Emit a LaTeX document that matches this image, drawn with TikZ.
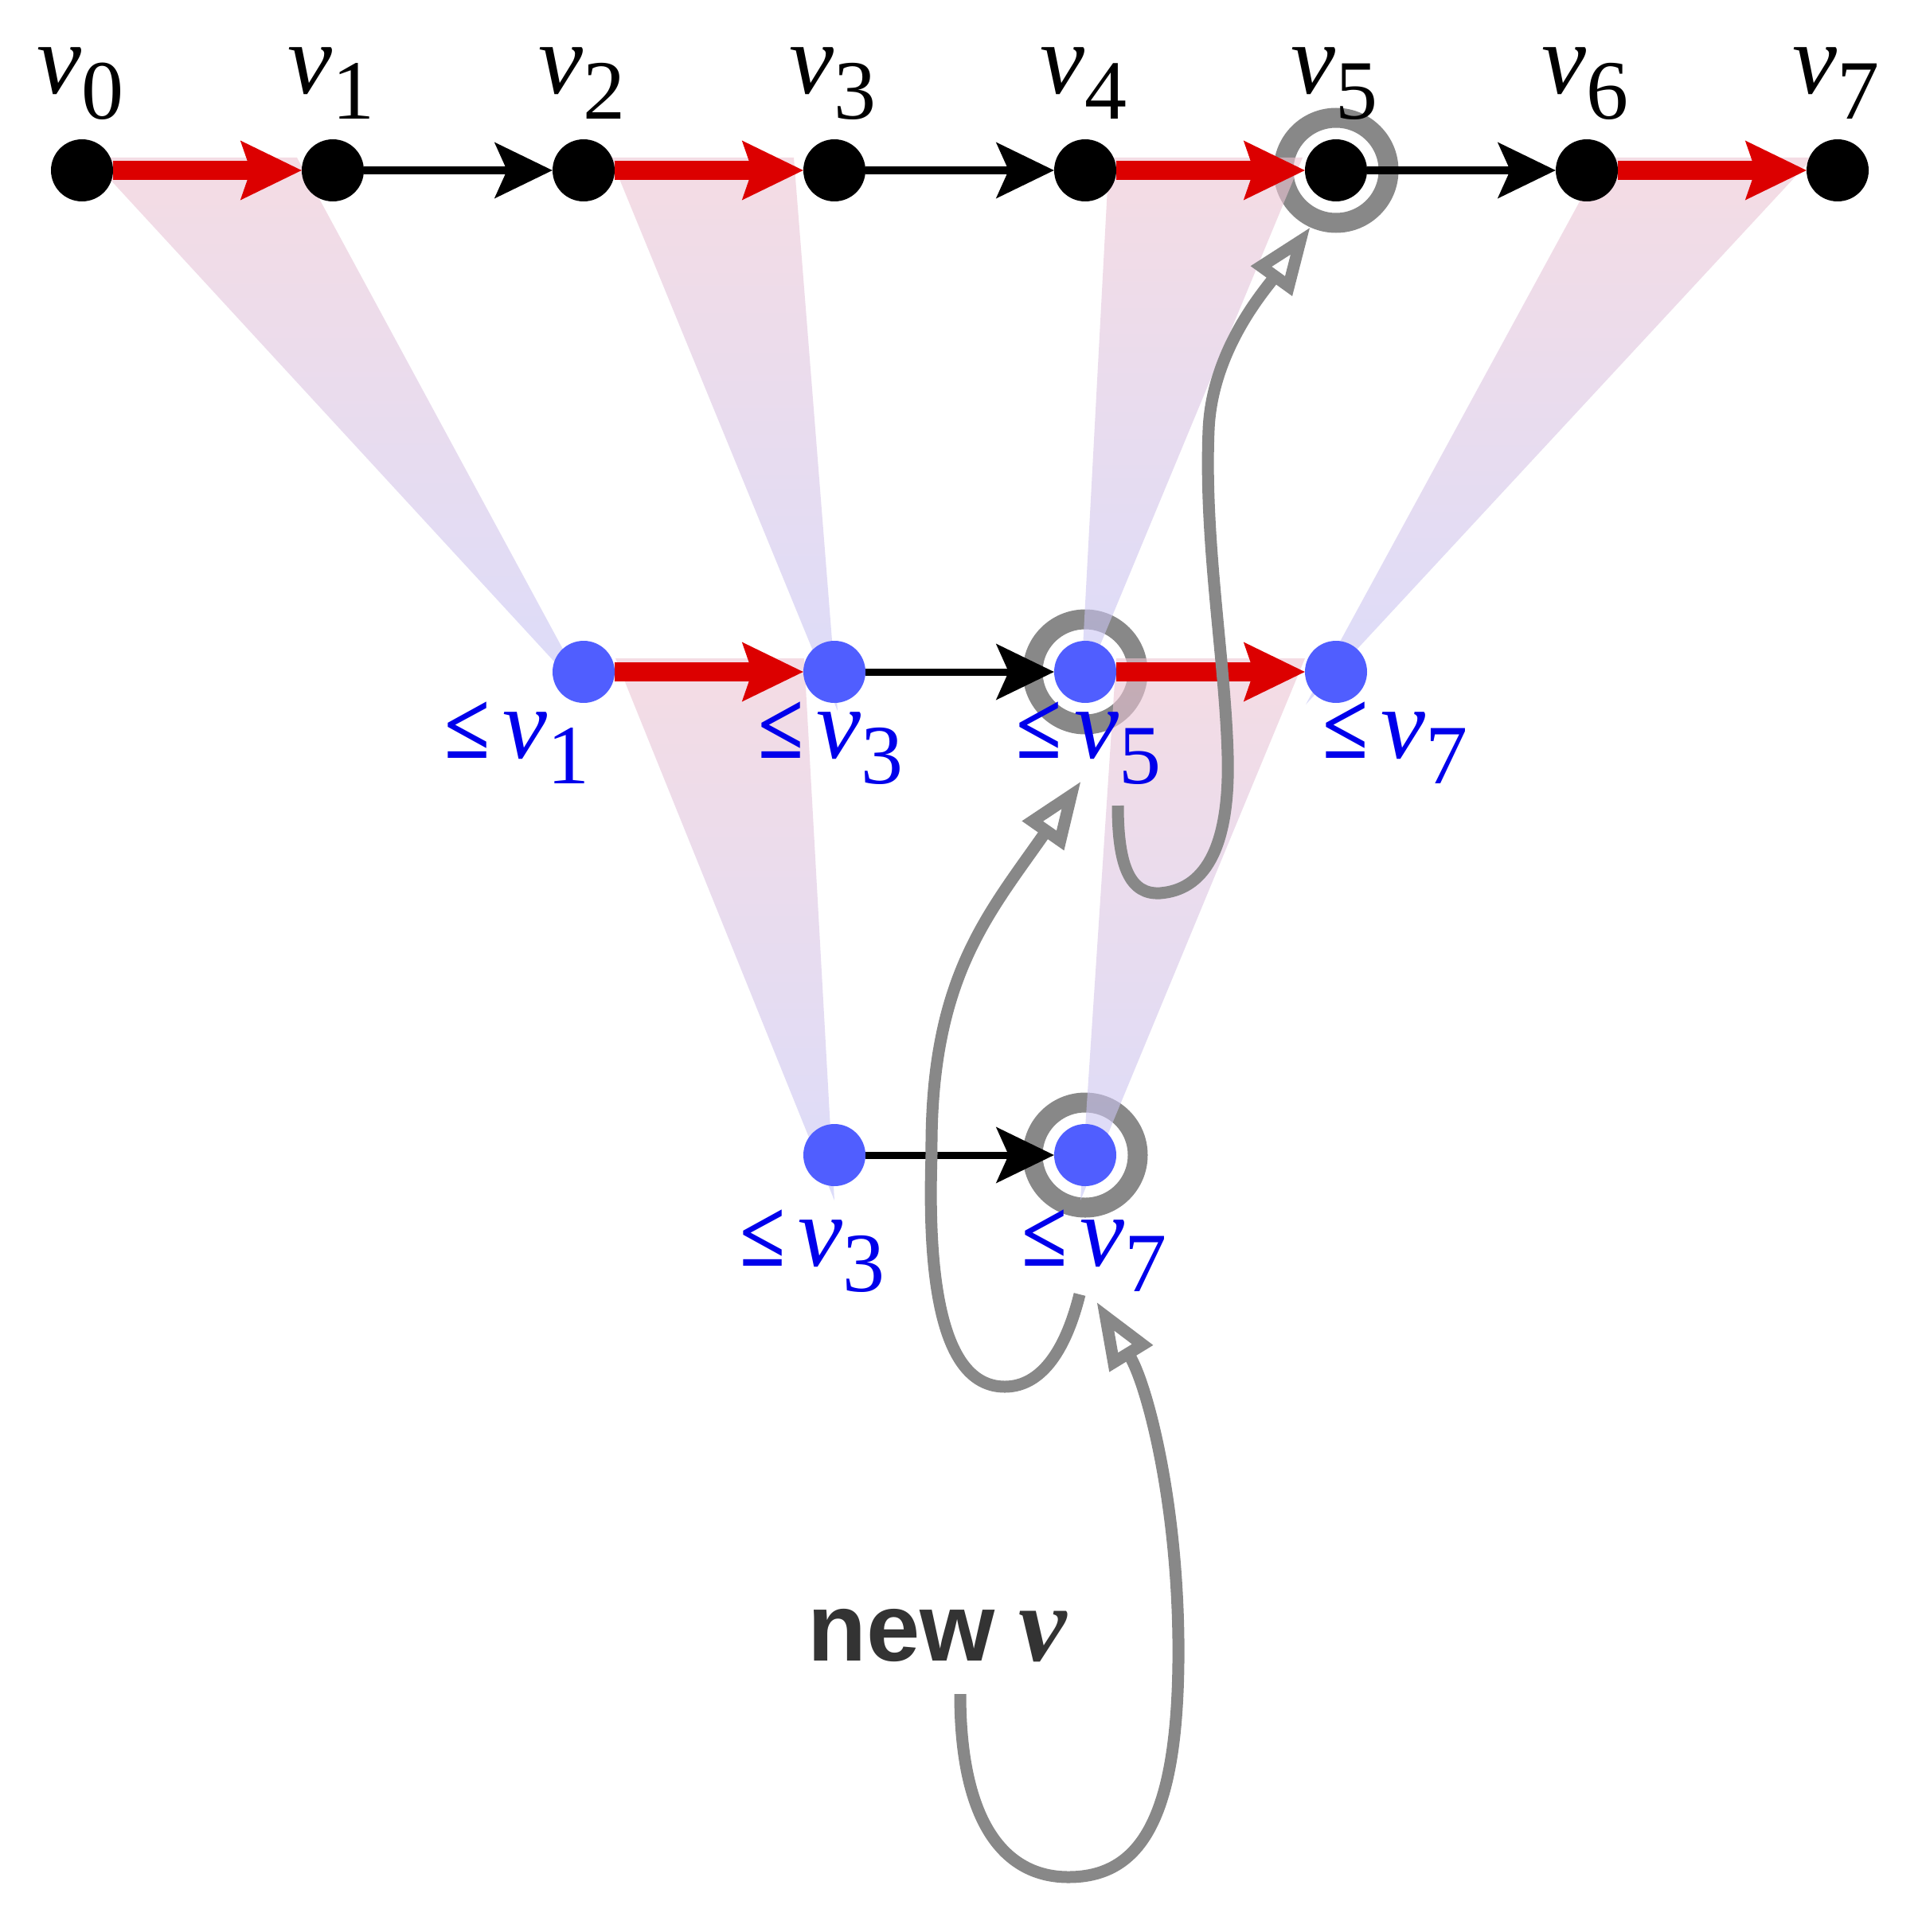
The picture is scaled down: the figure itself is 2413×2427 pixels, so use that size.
\documentclass[tikz,border=0pt]{standalone}
\usepackage{graphicx}
\usepackage{fontspec}
\setmainfont{Liberation Serif}
\newfontfamily\labsans{Liberation Sans}
\usetikzlibrary{arrows.meta}
\definecolor{redA}{RGB}{220,0,0}
\definecolor{dotblue}{RGB}{80,94,255}
\definecolor{txtblue}{RGB}{0,0,235}
\definecolor{grayA}{RGB}{136,136,136}
\definecolor{darkA}{RGB}{51,51,51}
\definecolor{wtop}{RGB}{238,197,210}
\definecolor{wbot}{RGB}{197,197,247}
\pgfdeclarelayer{bgg}
\pgfdeclarelayer{bg}
\pgfsetlayers{bgg,bg,main}
\newcommand{\mylabv}[1]{{\fontsize{126}{126}\selectfont\itshape v}\raisebox{-32pt}{\fontsize{106}{106}\selectfont #1}}
\newcommand{\mylabb}[1]{\scalebox{1}[1.12]{\fontsize{104}{104}\selectfont\bfseries ≤}\hspace{16pt}\mylabv{#1}}
\tikzset{
  kdot/.style={circle, fill=black, minimum size=78pt, inner sep=0pt},
  bdot/.style={circle, fill=dotblue, minimum size=78pt, inner sep=0pt},
  ringstyle/.style={draw=grayA, line width=25pt},
  redarr/.style={draw=redA, line width=24pt, -{Stealth[length=77pt,width=75pt,inset=13pt,line width=0pt]}},
  blkarr/.style={draw=black, line width=9pt, -{Stealth[length=73pt,width=71pt,inset=16pt,line width=0pt]}},
  grayarr/.style={draw=grayA, line width=15pt, -{Triangle[length=84pt,width=60pt,fill=white]}},
  wedgestyle/.style={top color=wtop, bottom color=wbot, fill opacity=0.6},
  vlabel/.style={anchor=base west, inner sep=0pt, text=black},
  blabel/.style={anchor=base west, inner sep=0pt, text=txtblue},
}
\begin{document}
\begin{tikzpicture}[x=1pt,y=-1pt]
\useasboundingbox (0,0) rectangle (2413,2427);
% dots
\foreach \i in {0,...,7}{
  \node[kdot] (v\i) at (103+315*\i,214) {};
}
\node[bdot] (m1) at (733,844) {};
\node[bdot] (m2) at (1048,844) {};
\node[bdot] (m3) at (1363,844) {};
\node[bdot] (m4) at (1678,844) {};
\node[bdot] (b1) at (1048,1451) {};
\node[bdot] (b2) at (1363,1451) {};

\begin{pgfonlayer}{bgg}
  \fill[white] (0,0) rectangle (2413,2427);
  \draw[ringstyle] (v5) circle[radius=66pt];
  \draw[ringstyle] (m3) circle[radius=66pt];
  \draw[ringstyle] (b2) circle[radius=66pt];
  \shade[wedgestyle] (113,198) -- (373,198) -- (743,882) -- cycle;
  \shade[wedgestyle] (767,198) -- (997,198) -- (1052,893) -- cycle;
  \shade[wedgestyle] (1393,198) -- (1636,198) -- (1357,870) -- cycle;
  \shade[wedgestyle] (2014,198) -- (2277,198) -- (1640,885) -- cycle;
  \shade[wedgestyle] (773,827) -- (1010,827) -- (1048,1508) -- cycle;
  \shade[wedgestyle] (1402,827) -- (1639,827) -- (1357,1508) -- cycle;
\end{pgfonlayer}

\begin{pgfonlayer}{bg}
  \draw[redarr] (v0) -- (v1);
  \draw[blkarr] (v1) -- (v2);
  \draw[redarr] (v2) -- (v3);
  \draw[blkarr] (v3) -- (v4);
  \draw[redarr] (v4) -- (v5);
  \draw[blkarr] (v5) -- (v6);
  \draw[redarr] (v6) -- (v7);
  \draw[redarr] (m1) -- (m2);
  \draw[blkarr] (m2) -- (m3);
  \draw[redarr] (m3) -- (m4);
  \draw[blkarr] (b1) -- (b2);
\end{pgfonlayer}

% labels
\foreach \i in {0,...,7}{
  \node[vlabel] (lv\i) at (46+315*\i,118) {\mylabv{\i}};
}
\node[blabel] (lm1) at (558,952) {\mylabb{1}};
\node[blabel] (lm2) at (952,952) {\mylabb{3}};
\node[blabel] (lm3) at (1276,952) {\mylabb{5}};
\node[blabel] (lm4) at (1661,952) {\mylabb{7}};
\node[blabel] (lb1) at (929,1590) {\mylabb{3}};
\node[blabel] (lb2) at (1283,1590) {\mylabb{7}};
\node[anchor=base west, inner sep=0pt, text=darkA] (nv) at (1014,2086)
  {{\labsans\bfseries\fontsize{121}{121}\selectfont new}\hspace{30pt}{\fontsize{136}{136}\selectfont\bfseries\itshape v}};

% gray curved arrows
\coordinate (c1s) at (1206,2128);
\coordinate (c1e) at (1377,1635);
\coordinate (c2s) at (1356,1626);
\coordinate (c2e) at (1358,981);
\coordinate (c3s) at (1404,1012);
\coordinate (c3e) at (1646,285);
\draw[grayarr] (c1s) .. controls (1206,2290) and (1262,2358) .. (1342,2358)
  .. controls (1440,2358) and (1482,2270) .. (1480,2060)
  .. controls (1478,1880) and (1440,1738) .. (c1e);
\draw[grayarr] (c2s) .. controls (1335,1710) and (1300,1742) .. (1262,1742)
  .. controls (1180,1742) and (1165,1600) .. (1170,1450)
  .. controls (1168,1230) and (1240,1150) .. (c2e);
\draw[grayarr] (c3s) .. controls (1404,1090) and (1420,1124) .. (1457,1122)
  .. controls (1510,1118) and (1545,1070) .. (1542,950)
  .. controls (1539,830) and (1512,680) .. (1518,540)
  .. controls (1522,440) and (1589,364) .. (c3e);
\end{tikzpicture}
\end{document}
